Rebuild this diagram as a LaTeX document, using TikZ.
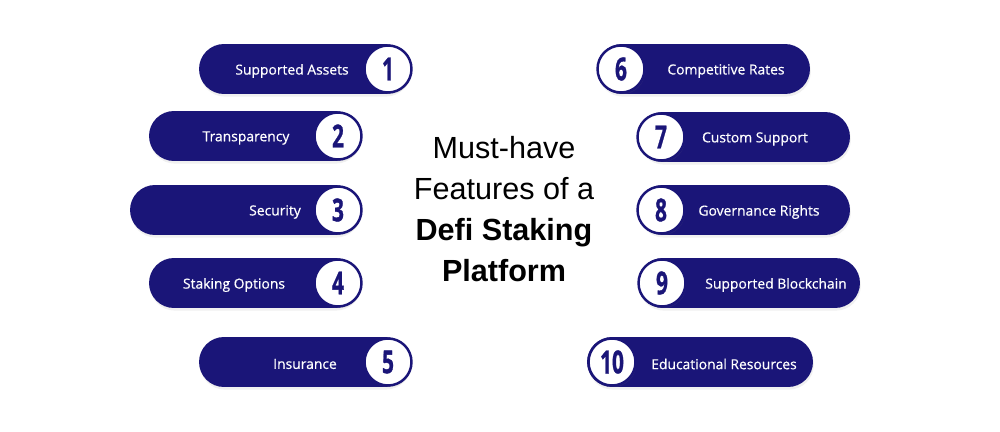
\documentclass[tikz,border=0pt]{standalone}
\usepackage{fontspec}
\setmainfont{Open Sans}
\newfontfamily\titlefont{Liberation Sans}
\newfontfamily\numfont[BoldFeatures={FakeBold=1.2}]{Open Sans}
\newfontfamily\lblfont[FakeBold=0.6]{Open Sans}
\usepackage{xcolor}
\usepackage{tikz}
\usetikzlibrary{shapes.misc,shadows}
\definecolor{featnavy}{RGB}{26,21,120}
\tikzset{
  featpill/.style  = {rounded rectangle, fill=featnavy, minimum height=1cm,
                      inner sep=0pt, drop shadow={opacity=0.12, shadow xshift=0.5pt,
                      shadow yshift=-1.5pt}},
  featnum/.style   = {circle, draw=featnavy, line width=1.4pt, fill=white,
                      minimum size=0.94cm, inner sep=0pt, text=featnavy,
                      font=\numfont\fontsize{18}{18}\selectfont\bfseries,
                      drop shadow={opacity=0.12, shadow xshift=0.5pt, shadow yshift=-1pt}},
  featlbl/.style   = {text=white, font=\lblfont\fontsize{7.9}{9}\selectfont, inner sep=0pt},
  feattitle/.style = {align=center, font=\titlefont\fontsize{17.4}{23.3}\selectfont},
}
\newcommand{\featdigit}[1]{\scalebox{0.66}[1]{#1}}

\begin{document}
\begin{tikzpicture}[x=0.02cm, y=-0.02cm]
  \useasboundingbox (0,0) rectangle (1000,432);

  % left column
  \node[featpill, minimum width=4.22cm] (p1) at (304.5,69)  {};
  \node[featpill, minimum width=4.22cm] (p2) at (254.5,136) {};
  \node[featpill, minimum width=4.60cm] (p3) at (245,210)   {};
  \node[featpill, minimum width=4.22cm] (p4) at (254.5,283) {};
  \node[featpill, minimum width=4.22cm] (p5) at (304.5,362) {};

  \node[featlbl] (l1) at (292,71)  {Supported Assets};
  \node[featlbl] (l2) at (246,138) {Transparency};
  \node[featlbl] (l3) at (275,212) {Security};
  \node[featlbl] (l4) at (234,285) {Staking Options};
  \node[featlbl] (l5) at (305,364) {Insurance};

  \node[featnum] (n1) at (388,69)  {\featdigit{1}};
  \node[featnum] (n2) at (338,136) {\featdigit{2}};
  \node[featnum] (n3) at (338,210) {\featdigit{3}};
  \node[featnum] (n4) at (338,283) {\featdigit{4}};
  \node[featnum] (n5) at (388,362) {\featdigit{5}};

  % right column
  \node[featpill, minimum width=4.26cm] (p6)  at (703.5,69) {};
  \node[featpill, minimum width=4.24cm] (p7)  at (744,137)  {};
  \node[featpill, minimum width=4.24cm] (p8)  at (744,210)  {};
  \node[featpill, minimum width=4.44cm] (p9)  at (749,283)  {};
  \node[featpill, minimum width=4.52cm] (p10) at (700,362)  {};

  \node[featlbl] (l6)  at (726,71)  {Competitive Rates};
  \node[featlbl] (l7)  at (755,139) {Custom Support};
  \node[featlbl] (l8)  at (759,212) {Governance Rights};
  \node[featlbl] (l9)  at (776,285) {Supported Blockchain};
  \node[featlbl] (l10) at (724,364) {Educational Resources};

  \node[featnum] (n6)  at (621,69)  {\featdigit{6}};
  \node[featnum] (n7)  at (661,137) {\featdigit{7}};
  \node[featnum] (n8)  at (661,210) {\featdigit{8}};
  \node[featnum] (n9)  at (662,283) {\featdigit{9}};
  \node[featnum] (n10) at (612,362) {\featdigit{10}};

  % title
  \node[feattitle] (title) at (504,209)
        {Must-have\\Features of a\\\textbf{Defi Staking}\\\textbf{Platform}};
\end{tikzpicture}
\end{document}
